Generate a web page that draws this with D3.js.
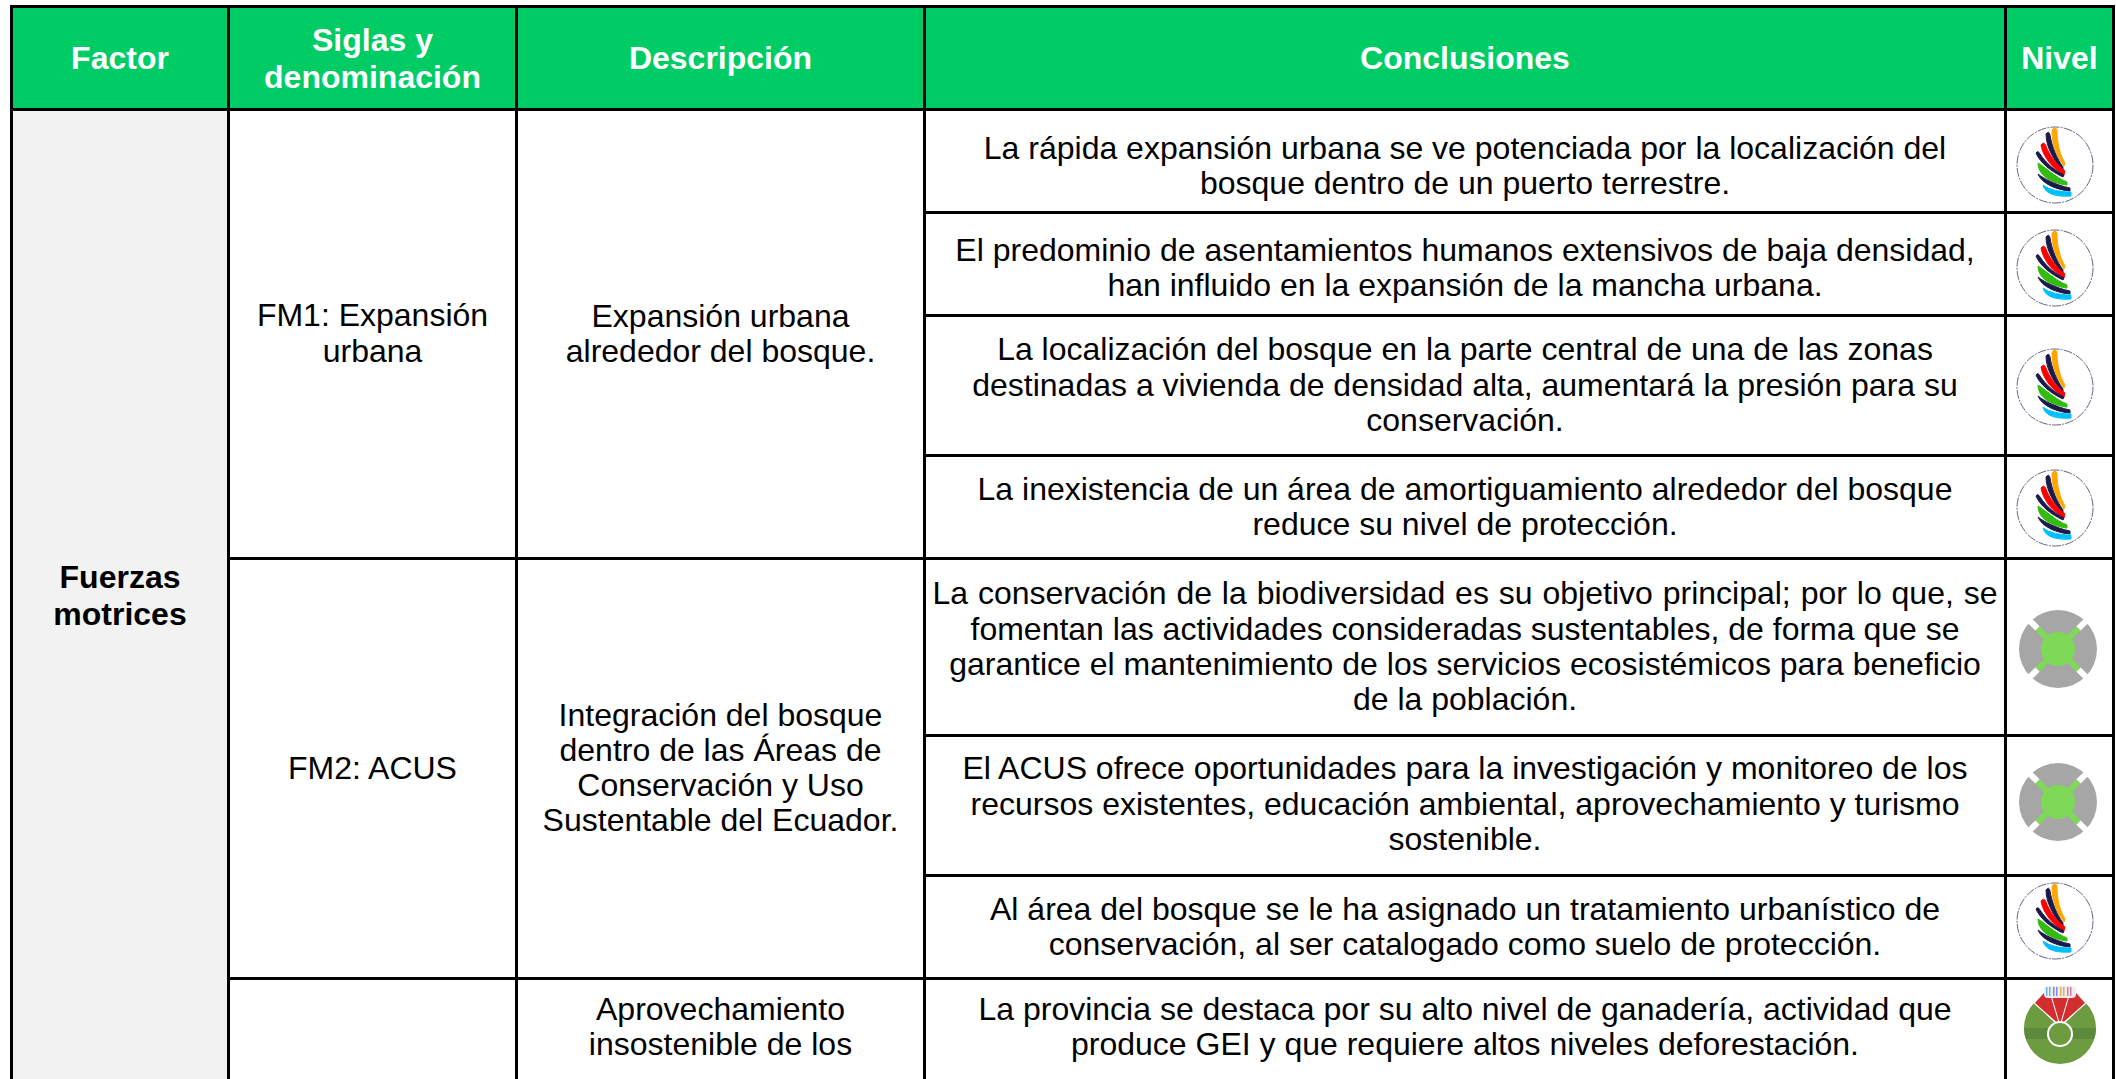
<!DOCTYPE html>
<html><head><meta charset="utf-8">
<script src="https://cdn.jsdelivr.net/npm/d3@7"></script>
<style>html,body{margin:0;padding:0;background:#fff;overflow:hidden}svg{display:block}</style>
</head><body><svg id="c" width="2116" height="1079"></svg>
<script>
const headers = ["Factor", ["Siglas y","denominación"], "Descripción", "Conclusiones", "Nivel"];
const factors = [["Fuerzas","motrices"]];
const groups = [
 {first:0,last:3,sigla:["FM1: Expansión","urbana"],desc:["Expansión urbana","alrededor del bosque."]},
 {first:4,last:6,sigla:["FM2: ACUS"],desc:["Integración del bosque","dentro de las Áreas de","Conservación y Uso","Sustentable del Ecuador."]},
 {first:7,last:7,sigla:[],desc:["Aprovechamiento","insostenible de los"]}
];
const conclusions = [
 ["La rápida expansión urbana se ve potenciada por la localización del","bosque dentro de un puerto terrestre."],
 ["El predominio de asentamientos humanos extensivos de baja densidad,","han influido en la expansión de la mancha urbana."],
 ["La localización del bosque en la parte central de una de las zonas","destinadas a vivienda de densidad alta, aumentará la presión para su","conservación."],
 ["La inexistencia de un área de amortiguamiento alrededor del bosque","reduce su nivel de protección."],
 ["La conservación de la biodiversidad es su objetivo principal; por lo que, se","fomentan las actividades consideradas sustentables, de forma que se","garantice el mantenimiento de los servicios ecosistémicos para beneficio","de la población."],
 ["El ACUS ofrece oportunidades para la investigación y monitoreo de los","recursos existentes, educación ambiental, aprovechamiento y turismo","sostenible."],
 ["Al área del bosque se le ha asignado un tratamiento urbanístico de","conservación, al ser catalogado como suelo de protección."],
 ["La provincia se destaca por su alto nivel de ganadería, actividad que","produce GEI y que requiere altos niveles deforestación."]
];
const levels = ["wing","wing","wing","wing","target","target","wing","ring"];

// layout
const colEdges = [11.5,228.5,516.5,924.5,2005.5,2113.5];
const rowEdges = [6.5,109.5,212.5,315.5,455.5,558.5,735.5,875.5,978.5,1082];
const textNudge = [4,3,-1,-1,-1,-2,-1,-4];
const iconY = [165,268,387,508,649,802,921,1028];
const iconX = {wing:2055,target:2058,ring:2060};
const X = d3.scaleOrdinal(d3.range(colEdges.length),colEdges);
const Y = d3.scaleOrdinal(d3.range(rowEdges.length),rowEdges);
const FONT = "'Liberation Sans',Arial,sans-serif", FS = 32, LH = 35.3;
const svg = d3.select("#c");
const rect=(g,x0,x1,y0,y1,f)=>g.append("rect").attr("x",x0).attr("y",y0).attr("width",x1-x0).attr("height",y1-y0).attr("fill",f);
function label(lines,cx,cy,opt={}){
  lines=[].concat(lines);
  const lh=opt.lh||LH;
  const t=svg.append("text").attr("text-anchor","middle").attr("font-family",FONT).attr("font-size",FS)
    .attr("font-weight",opt.bold?700:400).attr("fill",opt.fill||"#000");
  lines.forEach((l,i)=>{
    const s=t.append("tspan").attr("x",cx).attr("y",cy+(i-(lines.length-1)/2)*lh+FS*0.35).text(l);
    if(opt.spread&&opt.spread[i]) s.attr("word-spacing",opt.spread[i]);
  });
}
const mid=(a,b)=>(a+b)/2;
rect(svg,X(0),X(5),Y(0),Y(1),"#00cc66");
rect(svg,X(0),X(1),Y(1),1079,"#f2f2f2");
const lw=3;
const hl=(x0,x1,y)=>svg.append("line").attr("x1",x0).attr("x2",x1).attr("y1",y).attr("y2",y).attr("stroke","#000").attr("stroke-width",lw);
const vl=(x,y0,y1)=>svg.append("line").attr("x1",x).attr("x2",x).attr("y1",y0).attr("y2",y1).attr("stroke","#000").attr("stroke-width",lw);
hl(X(0)-1.5,X(5)+1.5,Y(0)); hl(X(0)-1.5,X(5)+1.5,Y(1));
colEdges.forEach(x=>vl(x,Y(0),1079));
conclusions.forEach((c,i)=>{ if(i>0) hl(X(3),X(5),Y(i+1)); });
groups.forEach(g=>{ if(g.first>0) hl(X(1),X(3),Y(g.first+1)); });
headers.forEach((h,i)=>label(h,mid(X(i),X(i+1)),mid(Y(0),Y(1)),{bold:true,fill:"#fff",lh:37}));
label(factors[0],mid(X(0),X(1)),595.5,{bold:true,lh:36.5});
groups.forEach(g=>{
  const y0=Y(g.first+1),y1=Y(g.last+2),n=g.first==7?-4:-1;
  if(g.sigla.length) label(g.sigla,mid(X(1),X(2)),mid(y0,y1)-1,{lh:36});
  label(g.desc,mid(X(2),X(3)),mid(y0,y1)+n,{lh:35});
});
conclusions.forEach((c,i)=>label(c,mid(X(3),X(4)),mid(Y(i+1),Y(i+2))+textNudge[i],{spread:i==4?[1,0,0,0]:null}));
const feathers=[
 ["#ffa600","M-3,-34 C-2,-38 2,-38 2,-34 C2,-22 5,-10 10,-2 L9,1 C2,-8 -3,-20 -3,-34Z"],
 ["#1b1b4b","M-9,-31 Q-6,-35 -5,-30 C-3,-18 2,-6 8,2 L8,5 C-1,-4 -9,-18 -9,-31Z"],
 ["#ff0000","M-14,-20 Q-11,-24 -9,-19 C-6,-10 2,0 10,6 L9,10 C-2,4 -12,-8 -14,-20Z"],
 ["#1b1b4b","M-19,-12 Q-17,-15 -15,-11 C-9,-2 0,6 9,10 L8,12 C-3,7 -15,-2 -19,-12Z"],
 ["#33bb11","M-17,-2 C-10,2 0,12 12,17 L12,20 C0,19 -17,12 -17,-2Z"],
 ["#1b1b4b","M-17,9 C-12,13 0,20 15,23 L15,26 C2,25 -13,19 -17,9Z"],
 ["#00bfff","M-12,20 C-5,25 5,27 16,27 L16,31 C4,32 -10,30 -12,20Z"]
];
function wing(g){
  g.append("circle").attr("r",38).attr("fill","none").attr("stroke","#66668a").attr("stroke-width",1).attr("stroke-dasharray","9 1.2 2 1.2");
  feathers.forEach(d=>g.append("path").attr("d",d[1]).attr("fill",d[0]).attr("stroke",d[0]).attr("stroke-width",1).attr("stroke-linejoin","round"));
}
function target(g){
  g.append("circle").attr("r",39).attr("fill","#a6a6a6");
  d3.range(4).forEach(i=>{
    g.append("rect").attr("x",-3).attr("y",-29).attr("width",6).attr("height",15).attr("fill","#7ed957").attr("transform",`rotate(${45+i*90})`);
    g.append("rect").attr("x",-3).attr("y",-41).attr("width",6).attr("height",12).attr("fill","#fff").attr("transform",`rotate(${45+i*90})`);
  });
  g.append("circle").attr("r",17).attr("fill","#7ed957");
}
function ring(g){
  const id="ringclip";
  g.append("clipPath").attr("id",id).append("circle").attr("r",36);
  g.append("path").attr("d",d3.arc()({innerRadius:0,outerRadius:36,startAngle:Math.PI/4,endAngle:Math.PI*7/4})).attr("fill","#6d9b3f");
  const b=g.append("g").attr("clip-path",`url(#${id})`);
  b.append("rect").attr("x",-36).attr("y",0).attr("width",72).attr("height",11).attr("fill","#5c8a3c");
  g.append("path").attr("d","M0,-2 L-26,-25 L-16,-36 L16,-36 L26,-25Z").attr("fill","#d12f2f").attr("stroke","#fff").attr("stroke-width",1.2);
  g.append("path").attr("d","M0,-2 L-10,-36 M0,-2 L10,-36").attr("stroke","#fff").attr("stroke-width",1).attr("fill","none");
  g.append("rect").attr("x",-16).attr("y",-42).attr("width",32).attr("height",12).attr("rx",4).attr("fill","#eee");
  ["#66bbee","#8888dd","#eeaa55","#dd77aa"].forEach((c,i)=>d3.range(2).forEach(k=>g.append("rect").attr("x",-14+i*7+k*3).attr("y",-41).attr("width",1.5).attr("height",9).attr("fill",c)));
  g.append("circle").attr("cy",6).attr("r",12).attr("fill","#6d9b3f").attr("stroke","#fff").attr("stroke-width",2);
}
const drawers={wing,target,ring};
levels.forEach((l,i)=>{
  const g=svg.append("g").attr("transform",`translate(${iconX[l]},${iconY[i]})`);
  drawers[l](g);
});
</script></body></html>
